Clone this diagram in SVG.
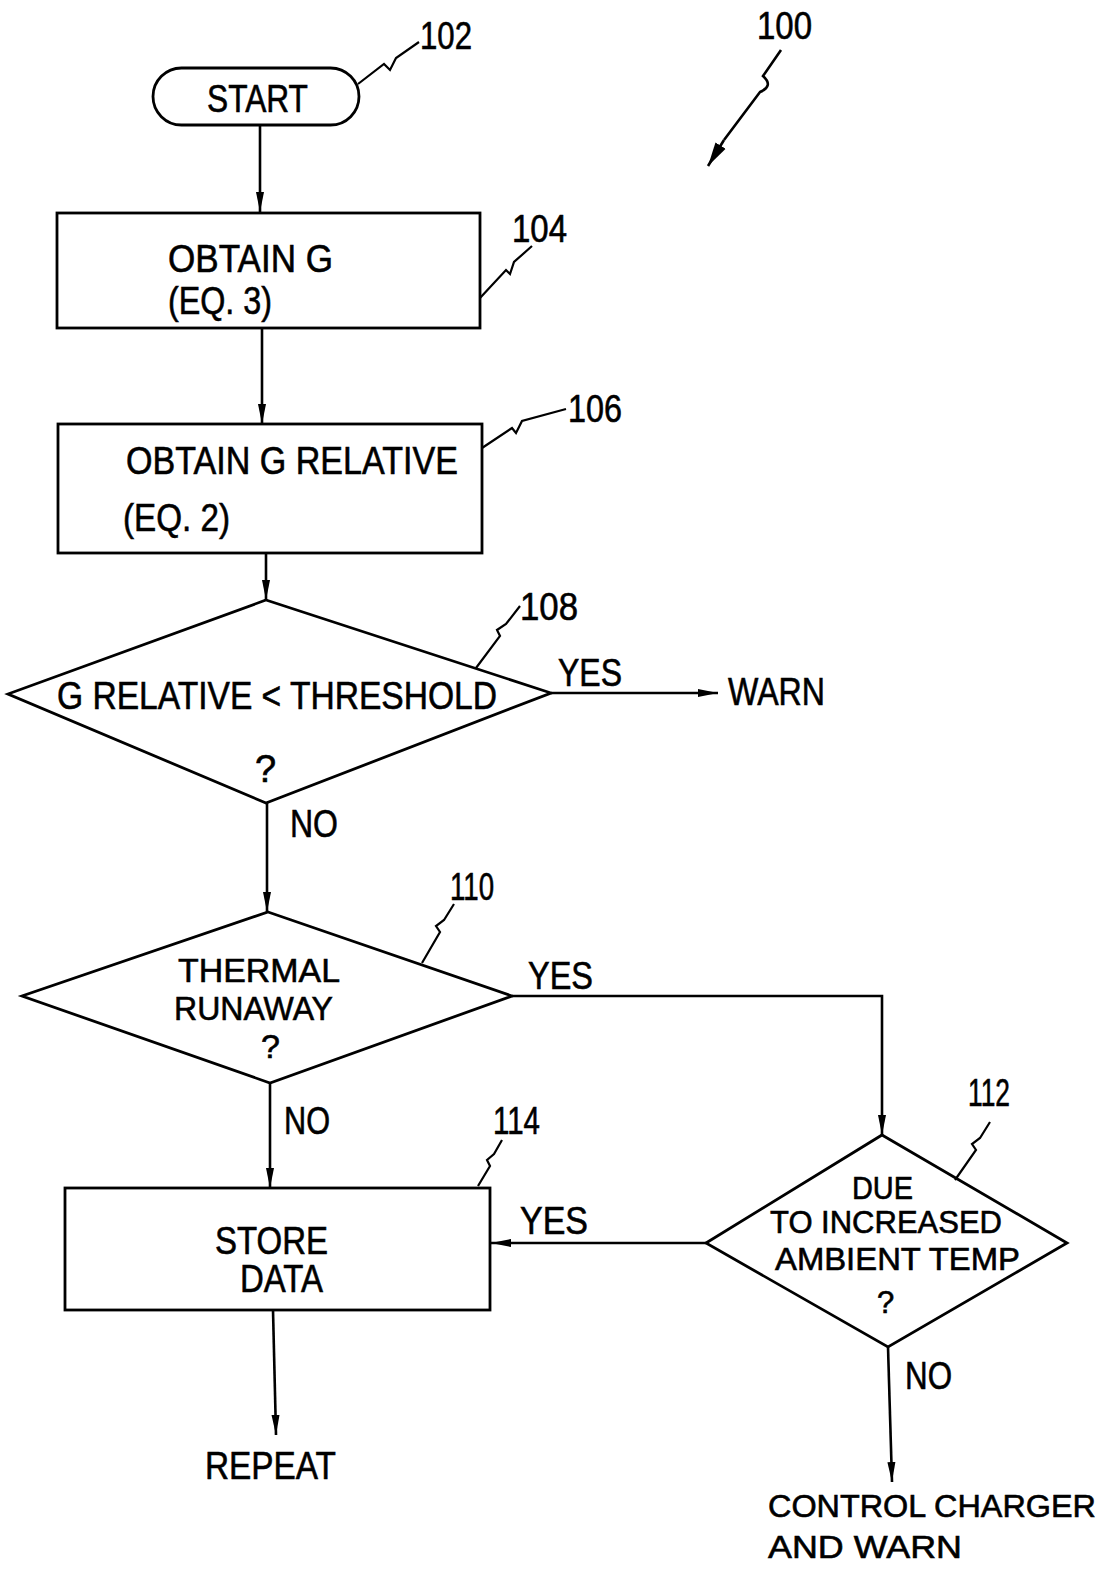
<svg xmlns="http://www.w3.org/2000/svg" width="1107" height="1571" viewBox="0 0 1107 1571">
<style>
.s{fill:none;stroke:#000;stroke-width:2.8;stroke-linejoin:miter}
.c{fill:none;stroke:#000;stroke-width:2.6}
.l{fill:none;stroke:#000;stroke-width:2.2}
.t{font-family:"Liberation Sans",Arial,sans-serif;font-size:38px;fill:#000;stroke:#000;stroke-width:0.6}
.m{font-size:34px}
.k{font-size:31px}
.n{font-size:32px}
</style>
<defs>
<marker id="ah" viewBox="0 0 20 10" refX="20" refY="5" markerWidth="20" markerHeight="10" orient="auto" markerUnits="userSpaceOnUse">
<path d="M0,1 L20,5 L0,9 z" fill="#000"/>
</marker>
<marker id="ah2" viewBox="0 0 24 14" refX="24" refY="7" markerWidth="24" markerHeight="14" orient="auto" markerUnits="userSpaceOnUse">
<path d="M0,1 L24,7 L0,13 z" fill="#000"/>
</marker>
</defs>
<rect width="1107" height="1571" fill="#fff"/>

<g id="ref100">
<text class="t" x="757" y="39" textLength="55" lengthAdjust="spacingAndGlyphs">100</text>
<path class="c" d="M781,50 L763,76 Q774,86 760,92 L724,140" />
<path class="c" stroke-width="3.5" d="M724,140 L708,166" marker-end="url(#ah2)"/>
</g>

<g id="n102">
<rect class="s" x="153" y="68" width="206" height="57" rx="28.5"/>
<text class="t" x="207" y="112" textLength="101" lengthAdjust="spacingAndGlyphs">START</text>
<path class="l" d="M358,84 L384,64 L390,70 L396,58 L419,42"/>
<text class="t" x="420" y="49" textLength="52" lengthAdjust="spacingAndGlyphs">102</text>
</g>

<g id="n104">
<rect class="s" x="57" y="213" width="423" height="115"/>
<text class="t" x="168" y="272" textLength="165" lengthAdjust="spacingAndGlyphs">OBTAIN  G</text>
<text class="t" x="168" y="314" textLength="104" lengthAdjust="spacingAndGlyphs">(EQ. 3)</text>
<path class="l" d="M480,298 L506,270 L510,274 L514,262 L532,246"/>
<text class="t" x="512" y="242" textLength="55" lengthAdjust="spacingAndGlyphs">104</text>
</g>

<g id="n106">
<rect class="s" x="58" y="424" width="424" height="129"/>
<text class="t" x="126" y="474" textLength="332" lengthAdjust="spacingAndGlyphs">OBTAIN G RELATIVE</text>
<text class="t" x="123" y="531" textLength="107" lengthAdjust="spacingAndGlyphs">(EQ. 2)</text>
<path class="l" d="M482,448 L512,428 L516,433 L522,421 L566,409"/>
<text class="t" x="568" y="422" textLength="54" lengthAdjust="spacingAndGlyphs">106</text>
</g>

<g id="n108">
<path class="s" d="M266,600 L551,693 L266,803 L8,694 Z"/>
<text class="t" x="57" y="709" textLength="440" lengthAdjust="spacingAndGlyphs">G RELATIVE &lt;  THRESHOLD</text>
<text class="t" x="255" y="782">?</text>
<path class="l" d="M476,668 L500,636 L497,630 L506,624 L520,606"/>
<text class="t" x="520" y="620" textLength="58" lengthAdjust="spacingAndGlyphs">108</text>
</g>

<g id="n110">
<path class="s" d="M268,912 L512,996 L270,1083 L22,996 Z"/>
<text class="t m" x="178" y="982" textLength="162" lengthAdjust="spacingAndGlyphs">THERMAL</text>
<text class="t m" x="174" y="1020" textLength="159" lengthAdjust="spacingAndGlyphs">RUNAWAY</text>
<text class="t m" x="261" y="1058">?</text>
<path class="l" d="M422,963 L440,932 L436,926 L444,920 L454,904"/>
<text class="t" x="450" y="900" textLength="44" lengthAdjust="spacingAndGlyphs">110</text>
</g>

<g id="n112">
<path class="s" d="M882,1135 L1067,1243 L888,1347 L706,1243 Z"/>
<text class="t k" x="852" y="1199" textLength="61" lengthAdjust="spacingAndGlyphs">DUE</text>
<text class="t k" x="770" y="1233" textLength="232" lengthAdjust="spacingAndGlyphs">TO INCREASED</text>
<text class="t k" x="775" y="1270" textLength="245" lengthAdjust="spacingAndGlyphs">AMBIENT TEMP</text>
<text class="t k" x="877" y="1313">?</text>
<path class="l" d="M955,1180 L976,1150 L972,1144 L980,1138 L990,1122"/>
<text class="t" x="968" y="1106" textLength="42" lengthAdjust="spacingAndGlyphs">112</text>
</g>

<g id="n114">
<rect class="s" x="65" y="1188" width="425" height="122"/>
<text class="t" x="215" y="1254" textLength="113" lengthAdjust="spacingAndGlyphs">STORE</text>
<text class="t" x="240" y="1292" textLength="83" lengthAdjust="spacingAndGlyphs">DATA</text>
<path class="l" d="M478,1186 L490,1166 L487,1160 L494,1154 L502,1140"/>
<text class="t" x="493" y="1134" textLength="47" lengthAdjust="spacingAndGlyphs">114</text>
</g>

<g id="terminals">
<text class="t" x="728" y="705" textLength="97" lengthAdjust="spacingAndGlyphs">WARN</text>
<text class="t" x="205" y="1479" textLength="131" lengthAdjust="spacingAndGlyphs">REPEAT</text>
<text class="t n" x="768" y="1517" textLength="328" lengthAdjust="spacingAndGlyphs">CONTROL CHARGER</text>
<text class="t n" x="768" y="1558" textLength="194" lengthAdjust="spacingAndGlyphs">AND  WARN</text>
</g>

<g id="connectors">
<path class="c" d="M260,125 V212" marker-end="url(#ah)"/>
<path class="c" d="M262,328 V424" marker-end="url(#ah)"/>
<path class="c" d="M266,553 V600" marker-end="url(#ah)"/>
<path class="c" d="M551,693 H718" marker-end="url(#ah)"/>
<path class="c" d="M267,803 V912" marker-end="url(#ah)"/>
<path class="c" d="M512,996 H882 V1135" marker-end="url(#ah)"/>
<path class="c" d="M270,1083 V1188" marker-end="url(#ah)"/>
<path class="c" d="M706,1243 H491" marker-end="url(#ah)"/>
<path class="c" d="M273,1310 L276,1435" marker-end="url(#ah)"/>
<path class="c" d="M888,1347 L892,1482" marker-end="url(#ah)"/>
<text class="t" x="558" y="686" textLength="64" lengthAdjust="spacingAndGlyphs">YES</text>
<text class="t" x="290" y="837" textLength="48" lengthAdjust="spacingAndGlyphs">NO</text>
<text class="t" x="528" y="989" textLength="65" lengthAdjust="spacingAndGlyphs">YES</text>
<text class="t" x="284" y="1134" textLength="46" lengthAdjust="spacingAndGlyphs">NO</text>
<text class="t" x="520" y="1234" textLength="68" lengthAdjust="spacingAndGlyphs">YES</text>
<text class="t" x="905" y="1389" textLength="47" lengthAdjust="spacingAndGlyphs">NO</text>
</g>
</svg>
